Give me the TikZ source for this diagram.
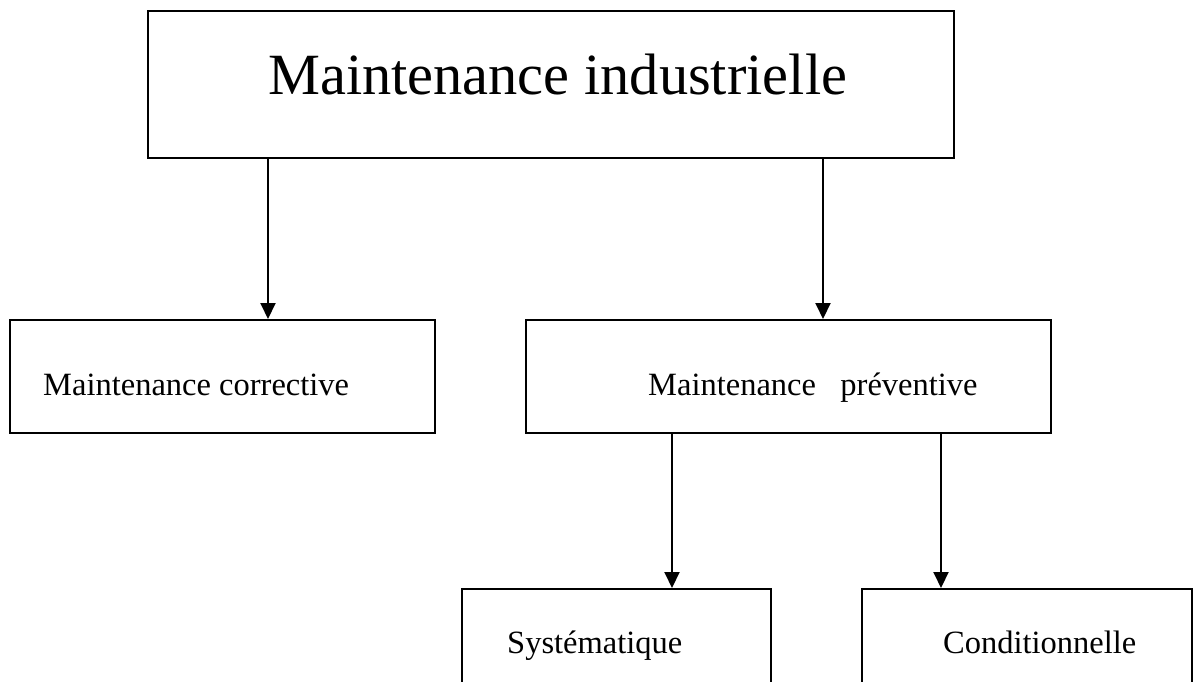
\documentclass[tikz,border=0pt]{standalone}
\usepackage{fontspec}
\setmainfont{Liberation Serif}
\usetikzlibrary{arrows.meta}
\tikzset{
  box/.style={draw, line width=2pt, rectangle, inner sep=0pt, anchor=north west},
  lbl/.style={inner sep=0pt, anchor=base west, font=\fontsize{32.5pt}{39pt}\selectfont},
  biglbl/.style={inner sep=0pt, anchor=base west, font=\fontsize{58.4pt}{70pt}\selectfont},
  arr/.style={line width=2pt, -{Triangle[length=16pt,width=15pt]}}
}
\begin{document}
\begin{tikzpicture}[x=1pt,y=1pt]
\clip (0,0) rectangle (1193,-682);
\fill[white] (0,0) rectangle (1193,-682);
% boxes
\node[box, minimum width=806pt, minimum height=147pt] (top) at (147,-10) {};
\node[box, minimum width=425pt, minimum height=113pt] (left) at (9,-319) {};
\node[box, minimum width=525pt, minimum height=113pt] (mid) at (525,-319) {};
\node[box, minimum width=309pt, minimum height=130pt] (sys) at (461,-588) {};
\node[box, minimum width=330pt, minimum height=130pt] (cond) at (861,-588) {};
% labels
\node[biglbl] (ttop) at (268,-95) {Maintenance industrielle};
\node[lbl] (tleft) at (43,-395) {Maintenance corrective};
\node[lbl] (tmid) at (648,-395) {Maintenance~~~préventive};
\node[lbl] (tsys) at (507,-653) {Systématique};
\node[lbl] (tcond) at (943,-653) {Conditionnelle};
% connectors
\draw[arr] ([xshift=121pt]top.south west) -- ([xshift=259pt]left.north west);
\draw[arr] ([xshift=676pt]top.south west) -- ([xshift=298pt]mid.north west);
\draw[arr] ([xshift=147pt]mid.south west) -- ([xshift=211pt]sys.north west);
\draw[arr] ([xshift=416pt]mid.south west) -- ([xshift=80pt]cond.north west);
\end{tikzpicture}
\end{document}
